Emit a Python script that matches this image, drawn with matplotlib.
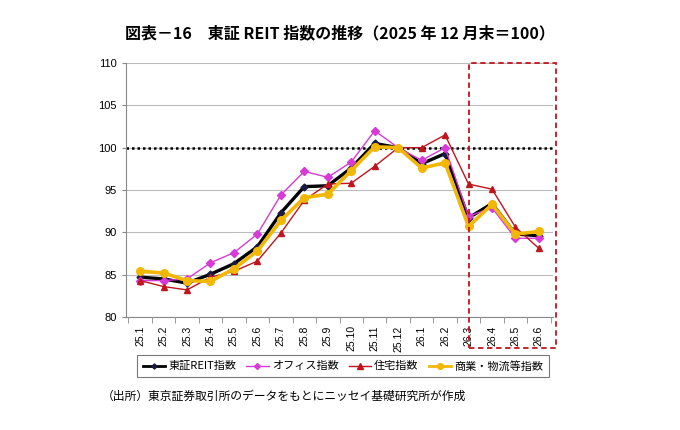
import matplotlib
matplotlib.use("Agg")
import matplotlib.pyplot as plt
from matplotlib.patches import Rectangle

plt.rcParams['font.family'] = ['Noto Sans CJK JP', 'DejaVu Sans']

months = ["25.1", "25.2", "25.3", "25.4", "25.5", "25.6", "25.7", "25.8", "25.9",
          "25.10", "25.11", "25.12", "26.1", "26.2", "26.3", "26.4", "26.5", "26.6"]
reit = [84.7, 84.5, 84.0, 85.05, 86.3, 88.3, 92.3, 95.4, 95.5, 97.6, 100.5, 100.0,
        98.1, 99.3, 91.7, 93.4, 89.8, 89.6]
office = [84.3, 84.3, 84.5, 86.4, 87.6, 89.8, 94.4, 97.2, 96.5, 98.3, 102.0, 100.0,
          98.5, 100.0, 91.9, 92.9, 89.3, 89.3]
residential = [84.3, 83.6, 83.2, 84.7, 85.4, 86.6, 89.9, 93.8, 95.7, 95.8, 97.8, 100.0,
               100.0, 101.5, 95.7, 95.1, 90.6, 88.1]
commercial = [85.4, 85.2, 84.3, 84.2, 85.7, 87.8, 91.4, 94.1, 94.5, 97.3, 100.1, 100.0,
              97.6, 98.2, 90.7, 93.3, 89.8, 90.1]
labels = ["東証REIT指数", "オフィス指数", "住宅指数", "商業・物流等指数"]
title = "図表－16　東証 REIT 指数の推移（2025 年 12 月末＝100）"
source = "（出所）東京証券取引所のデータをもとにニッセイ基礎研究所が作成"

fig = plt.figure(figsize=(6.8, 4.3), dpi=100)
W, H = 680, 430
ax = fig.add_axes([126 / W, 1 - 317 / H, (553 - 126) / W, (317 - 63) / H])

x = list(range(len(months)))
ax.plot(x, reit, color="#000000", lw=2.4, marker="D", ms=3.5, mfc="#1a1a40", mec="#1a1a40", label=labels[0], zorder=3)
ax.plot(x, office, color="#D63BD6", lw=1.0, marker="D", ms=4, label=labels[1], zorder=3)
ax.plot(x, residential, color="#C0141E", lw=1.0, marker="^", ms=5, label=labels[2], zorder=3)
ax.plot(x, commercial, color="#F2B705", lw=2.6, marker="o", ms=5.5, label=labels[3], zorder=3)

ax.axhline(100, color="black", ls=(0, (1, 1.2)), lw=1.8, zorder=2)

ax.set_ylim(80, 110)
ax.set_yticks(range(80, 111, 5))
ax.set_xlim(-0.6, len(months) - 0.4)
ax.set_xticks(x)
ax.set_xticklabels(months, rotation=90, fontsize=7.5, family=['Liberation Sans', 'DejaVu Sans'])
ax.set_xticks([i - 0.5 for i in range(len(months) + 1)], minor=True)
ax.tick_params(axis='x', which='major', length=0, pad=6)
ax.tick_params(axis='x', which='minor', length=4, color="#888888")
ax.tick_params(axis='y', labelsize=8, length=3, color="#888888")
for lab in ax.get_yticklabels():
    lab.set_family(['Liberation Sans', 'DejaVu Sans'])
ax.yaxis.grid(True, color="#BBBBBB", lw=0.8)
ax.set_axisbelow(True)
for s in ["top", "right"]:
    ax.spines[s].set_visible(False)
for s in ["left", "bottom"]:
    ax.spines[s].set_color("#888888")

# dashed highlight box (in figure pixel coords)
rect = Rectangle((469 / W, 1 - 348 / H), (556 - 469) / W, (348 - 63) / H,
                 transform=fig.transFigure, fill=False, ec="#C0141E", ls=(0, (3, 2)), lw=1.3)
fig.patches.append(rect)

fig.text(340 / W, 1 - 33 / H, title, ha="center", va="center", fontsize=11.5, fontweight="bold")

leg = fig.legend(loc="center", bbox_to_anchor=(343 / W, 1 - 366 / H), ncol=4, fontsize=8,
                 frameon=True, fancybox=False, edgecolor="#555555", handlelength=2.0,
                 handletextpad=0.3, columnspacing=0.9, borderpad=0.5, markerscale=0.75)
leg.get_frame().set_linewidth(0.8)
for h in leg.legend_handles:
    h.set_linewidth(min(h.get_linewidth(), 2.0))

fig.text(102 / W, 1 - 396 / H, source, ha="left", va="center", fontsize=8.5)

fig.savefig("out.png", dpi=100)
